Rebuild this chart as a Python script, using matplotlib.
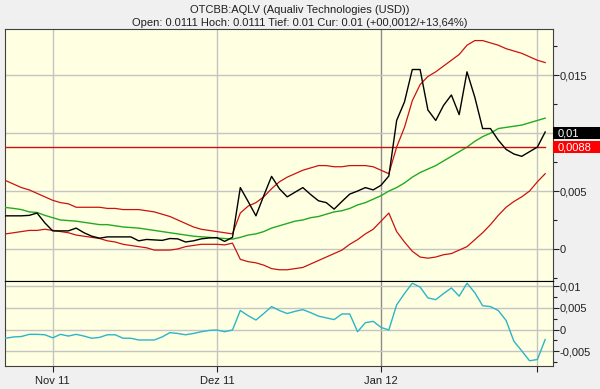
import matplotlib
matplotlib.use("Agg")
import matplotlib.pyplot as plt
import matplotlib.ticker as mticker
from matplotlib.patches import Rectangle
import numpy as np

plt.rcParams['font.family'] = ['Liberation Sans', 'DejaVu Sans']

title_line1 = "OTCBB:AQLV (Aqualiv Technologies (USD))"
title_line2 = "Open: 0.0111 Hoch: 0.0111 Tief: 0.01 Cur: 0.01 (+00,0012/+13,64%)"

# trading-day index positions of month starts
month_pos = [6, 27, 48, 68]
month_labels = ["Nov 11", "Dez 11", "Jan 12", ""]

close = [0.00286, 0.00286, 0.00286, 0.0029, 0.0031, 0.00225, 0.00156, 0.00156, 0.00156, 0.0018,
         0.0014, 0.0011, 0.00093, 0.00104, 0.00104, 0.00104, 0.00104, 0.0007, 0.00082, 0.00078,
         0.00074, 0.0009, 0.00087, 0.0006, 0.0007, 0.00087, 0.00095, 0.00098, 0.00065, 0.001,
         0.0053, 0.0041, 0.00286, 0.0046, 0.00627, 0.0052, 0.0045, 0.0049, 0.0053, 0.0047,
         0.00416, 0.004, 0.00344, 0.0041, 0.00474, 0.005, 0.0053, 0.0051, 0.0055, 0.0063,
         0.0111, 0.0127, 0.0155, 0.0155, 0.012, 0.0111, 0.0124, 0.0133, 0.0116, 0.0153,
         0.0131, 0.0104, 0.0104, 0.0094, 0.0086, 0.0082, 0.008, 0.0084, 0.0088, 0.0101]

sma = [0.00358, 0.0035, 0.0034, 0.0032, 0.00315, 0.0029, 0.0027, 0.0025, 0.00245, 0.0024,
       0.0023, 0.0022, 0.0021, 0.0021, 0.002, 0.0019, 0.00185, 0.0018, 0.0017, 0.0016,
       0.0015, 0.0014, 0.0013, 0.0012, 0.0011, 0.00105, 0.001, 0.00095, 0.0009, 0.00085,
       0.001, 0.0012, 0.0013, 0.0015, 0.0018, 0.002, 0.0022, 0.0024, 0.0025, 0.0027,
       0.0028, 0.003, 0.0032, 0.0033, 0.0035, 0.0038, 0.004, 0.0043, 0.0046, 0.005,
       0.0053, 0.0057, 0.0062, 0.0066, 0.0069, 0.0072, 0.0076, 0.008, 0.0084, 0.0088,
       0.0093, 0.0097, 0.01, 0.0104, 0.0105, 0.0106, 0.0107, 0.0109, 0.0111, 0.0113]

upper = [0.0059, 0.0056, 0.0053, 0.0051, 0.0048, 0.0045, 0.0042, 0.004, 0.0039, 0.0036,
         0.0036, 0.0036, 0.0036, 0.0035, 0.0035, 0.0034, 0.0034, 0.0034, 0.0033, 0.0032,
         0.003, 0.0028, 0.0025, 0.0022, 0.0019, 0.0017, 0.0016, 0.0015, 0.0014, 0.0013,
         0.0031, 0.0037, 0.004, 0.0045, 0.0052, 0.0058, 0.0062, 0.0065, 0.0068, 0.007,
         0.0072, 0.0072, 0.0071, 0.0071, 0.0072, 0.0072, 0.0072, 0.0071, 0.0068, 0.0065,
         0.0088, 0.0105, 0.0128, 0.0142, 0.0149, 0.0153, 0.0158, 0.0163, 0.0168, 0.0176,
         0.018, 0.018, 0.0178, 0.0176, 0.0173, 0.0171, 0.0169, 0.0166, 0.0163, 0.0161]

lower = [0.0013, 0.0014, 0.0015, 0.0016, 0.0016, 0.0017, 0.0016, 0.0015, 0.0014, 0.0012,
         0.0011, 0.001, 0.0009, 0.0007, 0.0006, 0.0004, 0.0003, 0.0002, 0.0001, -0.0001,
         -0.0001, -0.0001, 0.0, 0.0002, 0.0003, 0.0004, 0.0004, 0.0004, 0.00035, 0.0005,
         -0.0009, -0.0011, -0.0012, -0.0014, -0.0017, -0.0018, -0.0018, -0.0017, -0.0016, -0.0013,
         -0.001, -0.0007, -0.0004, -0.0001, 0.0004, 0.0008, 0.0013, 0.0017, 0.0024, 0.0031,
         0.0015, 0.0006, -0.0002, -0.0007, -0.0008, -0.0007, -0.0005, -0.0004, -0.0001, 0.0002,
         0.0008, 0.0014, 0.0021, 0.0029, 0.0036, 0.0041, 0.0045, 0.005, 0.0058, 0.0065]

indicator = [-0.002, -0.0017, -0.0016, -0.0011, -0.0011, -0.0012, -0.0019, -0.0011, -0.0015, -0.0011,
             -0.0015, -0.002, -0.0018, -0.0012, -0.0012, -0.002, -0.002, -0.0024, -0.0024, -0.0024,
             -0.0017, -0.0007, -0.0009, -0.0012, -0.0009, -0.0005, -0.0002, -0.0001, -0.0005, -0.0001,
             0.0044, 0.0032, 0.0022, 0.0037, 0.0053, 0.0044, 0.0037, 0.0042, 0.0046, 0.0039,
             0.0031, 0.0027, 0.0023, 0.0036, 0.0036, -0.0005, 0.0016, 0.0019, 0.0005, -0.0001,
             0.0057, 0.0083, 0.0107, 0.0098, 0.0073, 0.0069, 0.0083, 0.0096, 0.0077, 0.0107,
             0.0085, 0.0055, 0.0053, 0.0044, 0.0021, -0.0027, -0.0049, -0.0072, -0.0069, -0.0023]

ref_level = 0.0088
cur_value = 0.01

main_ticks = [0, 0.005, 0.01, 0.015]
main_ticklabels = ["0", "0,005", "", "0,015"]   # 0,01 is shown by the black value box
ind_ticks = [-0.005, 0, 0.005, 0.01]
ind_ticklabels = ["-0,005", "0", "0,005", "0,01"]

BG = "#F0F0F0"
PLOT_BG = "#FFFFE1"
GRID = "#C4C4C4"
RED = "#CC1111"

fig = plt.figure(figsize=(6.0, 3.89), dpi=100, facecolor=BG)
L, R = 5 / 600, 553 / 600
ax = fig.add_axes([L, 1 - 281 / 389, R - L, (281 - 29) / 389])
ax2 = fig.add_axes([L, 1 - 366 / 389, R - L, (366 - 281) / 389], sharex=ax)

x = np.arange(len(close))

for a in (ax, ax2):
    a.set_facecolor(PLOT_BG)
    for p in month_pos:
        a.axvline(p, color="#8C8C8C" if p == 48 else GRID, lw=1.0, zorder=1)
    for s in a.spines.values():
        s.set_color("#404040")
        s.set_linewidth(0.8)
    a.yaxis.tick_right()
    a.tick_params(axis="y", which="major", direction="out", length=4, width=0.8,
                  labelsize=8, pad=1, colors="#202020")
    a.tick_params(axis="y", which="minor", direction="out", length=3, width=0.8, colors="#202020")
    a.tick_params(axis="x", which="both", length=0)

ax.set_xlim(-0.1, 70.0)
ax.set_ylim(-0.00277, 0.0190)
ax.set_yticks(main_ticks)
ax.set_yticklabels(main_ticklabels)
ax.yaxis.set_minor_locator(mticker.MultipleLocator(0.0025))
for t in main_ticks:
    ax.axhline(t, color=GRID, lw=1.0, zorder=1)
ax.tick_params(axis="x", labelbottom=False)
ax.spines["bottom"].set_color("black")

ax.plot(x, upper, color=RED, lw=0.9, zorder=3)
ax.plot(x, lower, color=RED, lw=0.9, zorder=3)
ax.plot(x, sma, color="#22AA22", lw=1.0, zorder=3)
ax.plot(x, close, color="black", lw=1.0, zorder=4)
ax.plot([-0.1, x[-1]], [ref_level, ref_level], color=RED, lw=1.0, zorder=3)

# value boxes on the right
trans = ax.get_yaxis_transform()
box_h = 0.00104
for val, fc, txt in [(cur_value, "black", "0,01"), (ref_level, "#FF0000", "0,0088")]:
    ax.add_patch(Rectangle((1.0, val - box_h / 2), 0.1, box_h, transform=trans,
                           facecolor=fc, edgecolor="none", clip_on=False, zorder=6))
    ax.text(1.008, val, txt, transform=trans, color="white", fontsize=8,
            va="center", ha="left", zorder=7, clip_on=False)

ax2.set_ylim(-0.0084, 0.0112)
ax2.set_yticks(ind_ticks)
ax2.set_yticklabels(ind_ticklabels)
ax2.yaxis.set_minor_locator(mticker.MultipleLocator(0.0025))
for t in ind_ticks:
    ax2.axhline(t, color=GRID, lw=1.0, zorder=1)
ax2.plot(x, indicator, color="#2BB5C8", lw=1.0, zorder=3)
ax2.spines["top"].set_color("black")
ax2.spines["top"].set_linewidth(0.8)

ax2.set_xticks(month_pos)
ax2.set_xticklabels(month_labels)
ax2.tick_params(axis="x", which="major", direction="out", length=4, width=0.8,
                labelsize=8, pad=3, colors="#202020")

fig.text(0.5, 1 - 10 / 389, title_line1, ha="center", va="center", fontsize=8, color="#202020")
fig.text(0.5, 1 - 23 / 389, title_line2, ha="center", va="center", fontsize=8, color="#202020")

fig.savefig("out.png", dpi=100, facecolor=BG)
